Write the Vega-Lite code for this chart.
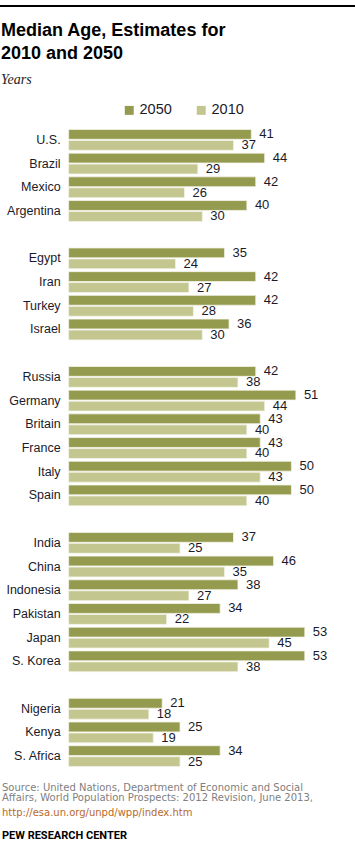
{
  "$schema": "https://vega.github.io/schema/vega-lite/v6.json",
  "padding": 0,
  "autosize": {"type": "pad"},
  "spacing": 0,
  "bounds": "full",
  "resolve": {"legend": {"color": "independent"}},
  "config": {"view": {"stroke": null}},
  "datasets": {
    "ages": [
      {"country": "U.S.", "year": "2050", "age": 41}, {"country": "U.S.", "year": "2010", "age": 37},
      {"country": "Brazil", "year": "2050", "age": 44}, {"country": "Brazil", "year": "2010", "age": 29},
      {"country": "Mexico", "year": "2050", "age": 42}, {"country": "Mexico", "year": "2010", "age": 26},
      {"country": "Argentina", "year": "2050", "age": 40}, {"country": "Argentina", "year": "2010", "age": 30},
      {"country": "Egypt", "year": "2050", "age": 35}, {"country": "Egypt", "year": "2010", "age": 24},
      {"country": "Iran", "year": "2050", "age": 42}, {"country": "Iran", "year": "2010", "age": 27},
      {"country": "Turkey", "year": "2050", "age": 42}, {"country": "Turkey", "year": "2010", "age": 28},
      {"country": "Israel", "year": "2050", "age": 36}, {"country": "Israel", "year": "2010", "age": 30},
      {"country": "Russia", "year": "2050", "age": 42}, {"country": "Russia", "year": "2010", "age": 38},
      {"country": "Germany", "year": "2050", "age": 51}, {"country": "Germany", "year": "2010", "age": 44},
      {"country": "Britain", "year": "2050", "age": 43}, {"country": "Britain", "year": "2010", "age": 40},
      {"country": "France", "year": "2050", "age": 43}, {"country": "France", "year": "2010", "age": 40},
      {"country": "Italy", "year": "2050", "age": 50}, {"country": "Italy", "year": "2010", "age": 43},
      {"country": "Spain", "year": "2050", "age": 50}, {"country": "Spain", "year": "2010", "age": 40},
      {"country": "India", "year": "2050", "age": 37}, {"country": "India", "year": "2010", "age": 25},
      {"country": "China", "year": "2050", "age": 46}, {"country": "China", "year": "2010", "age": 35},
      {"country": "Indonesia", "year": "2050", "age": 38}, {"country": "Indonesia", "year": "2010", "age": 27},
      {"country": "Pakistan", "year": "2050", "age": 34}, {"country": "Pakistan", "year": "2010", "age": 22},
      {"country": "Japan", "year": "2050", "age": 53}, {"country": "Japan", "year": "2010", "age": 45},
      {"country": "S. Korea", "year": "2050", "age": 53}, {"country": "S. Korea", "year": "2010", "age": 38},
      {"country": "Nigeria", "year": "2050", "age": 21}, {"country": "Nigeria", "year": "2010", "age": 18},
      {"country": "Kenya", "year": "2050", "age": 25}, {"country": "Kenya", "year": "2010", "age": 19},
      {"country": "S. Africa", "year": "2050", "age": 34}, {"country": "S. Africa", "year": "2010", "age": 25}
    ],
    "blank": [{}]
  },
  "vconcat": [
    {
      "width": 355, "height": 2,
      "view": {"fill": "#000000", "stroke": null},
      "data": {"name": "blank"},
      "mark": {"type": "text", "text": ""}
    },
    {
      "width": 355, "height": 2,
      "view": {"fill": "#ffffff", "stroke": null},
      "data": {"name": "blank"},
      "mark": {"type": "text", "text": ""}
    },
    {
      "width": 336,
      "height": 640,
      "data": {"name": "ages"},
      "title": {
        "text": ["Median Age, Estimates for", "2010 and 2050"],
        "subtitle": "Years",
        "anchor": "start",
        "frame": "bounds",
        "dx": 1,
        "font": "Liberation Sans",
        "fontSize": 18,
        "fontWeight": "bold",
        "lineHeight": 23,
        "color": "#000000",
        "subtitleFont": "Liberation Serif",
        "subtitleFontSize": 14,
        "subtitleFontStyle": "italic",
        "subtitleColor": "#222222",
        "subtitlePadding": 10,
        "offset": 16
      },
      "encoding": {
        "y": {
          "field": "country",
          "type": "nominal",
          "scale": {
            "domain": ["U.S.", "Brazil", "Mexico", "Argentina", "_1", "Egypt", "Iran", "Turkey", "Israel", "_2", "Russia", "Germany", "Britain", "France", "Italy", "Spain", "_3", "India", "China", "Indonesia", "Pakistan", "Japan", "S. Korea", "_4", "Nigeria", "Kenya", "S. Africa"],
            "paddingInner": 0.12,
            "paddingOuter": 0.06
          },
          "axis": null
        },
        "x": {
          "field": "age",
          "type": "quantitative",
          "scale": {"domain": [-15.4, 60], "nice": false, "zero": false},
          "axis": null
        }
      },
      "layer": [
        {
          "mark": {"type": "bar", "stroke": "#f4f4ea", "strokeWidth": 0.8},
          "encoding": {
            "x2": {"datum": 0},
            "yOffset": {
              "field": "year",
              "type": "nominal",
              "scale": {"domain": ["2050", "2010"], "paddingInner": 0.1}
            },
            "color": {
              "field": "year",
              "type": "nominal",
              "scale": {"domain": ["2050", "2010"], "range": ["#959b4e", "#c3c68e"]},
              "legend": {
                "title": null,
                "orient": "none",
                "direction": "horizontal",
                "legendX": 122,
                "legendY": -25,
                "symbolType": "square",
                "symbolSize": 80,
                "symbolStrokeWidth": 0,
                "labelFont": "Liberation Sans",
                "labelFontSize": 14.5,
                "labelColor": "#1a1a2a",
                "labelOffset": 3,
                "columnPadding": 22
              }
            }
          }
        },
        {
          "mark": {"type": "text", "align": "left", "baseline": "middle", "dx": 8, "font": "Liberation Sans", "fontSize": 13, "color": "#1a1a2a"},
          "encoding": {
            "yOffset": {
              "field": "year",
              "type": "nominal",
              "scale": {"domain": ["2050", "2010"], "paddingInner": 0.1}
            },
            "text": {"field": "age", "type": "quantitative"}
          }
        },
        {
          "transform": [{"filter": "datum.year === '2050'"}],
          "mark": {"type": "text", "align": "right", "baseline": "middle", "dx": -8, "font": "Liberation Sans", "fontSize": 12.5, "color": "#1a1a2a"},
          "encoding": {
            "x": {"datum": 0},
            "text": {"field": "country", "type": "nominal"}
          }
        }
      ]
    },
    {
      "width": 355, "height": 14,
      "view": {"fill": "#ffffff", "stroke": null},
      "data": {"name": "blank"},
      "mark": {"type": "text", "text": ""},
      "title": {
        "text": ["Source: United Nations, Department of Economic and Social", "Affairs, World Population Prospects: 2012 Revision, June 2013,"],
        "subtitle": "http://esa.un.org/unpd/wpp/index.htm",
        "orient": "bottom",
        "anchor": "start",
        "dx": 2,
        "offset": 0,
        "font": "DejaVu Sans",
        "fontSize": 10,
        "fontWeight": "normal",
        "lineHeight": 10,
        "color": "#808080",
        "subtitleFont": "DejaVu Sans",
        "subtitleFontSize": 10,
        "subtitleColor": "#b8692a",
        "subtitlePadding": 5
      }
    },
    {
      "width": 355, "height": 3,
      "view": {"fill": "#ffffff", "stroke": null},
      "data": {"name": "blank"},
      "mark": {"type": "text", "text": ""},
      "title": {
        "text": "PEW RESEARCH CENTER",
        "orient": "bottom",
        "anchor": "start",
        "dx": 2,
        "offset": 0,
        "font": "Roboto",
        "fontSize": 11,
        "fontWeight": "bold",
        "color": "#000000"
      }
    },
    {
      "width": 355, "height": 16,
      "view": {"fill": "#ffffff", "stroke": null},
      "data": {"name": "blank"},
      "mark": {"type": "text", "text": ""}
    },
    {
      "width": 355, "height": 2,
      "view": {"fill": "#000000", "stroke": null},
      "data": {"name": "blank"},
      "mark": {"type": "text", "text": ""}
    }
  ]
}
